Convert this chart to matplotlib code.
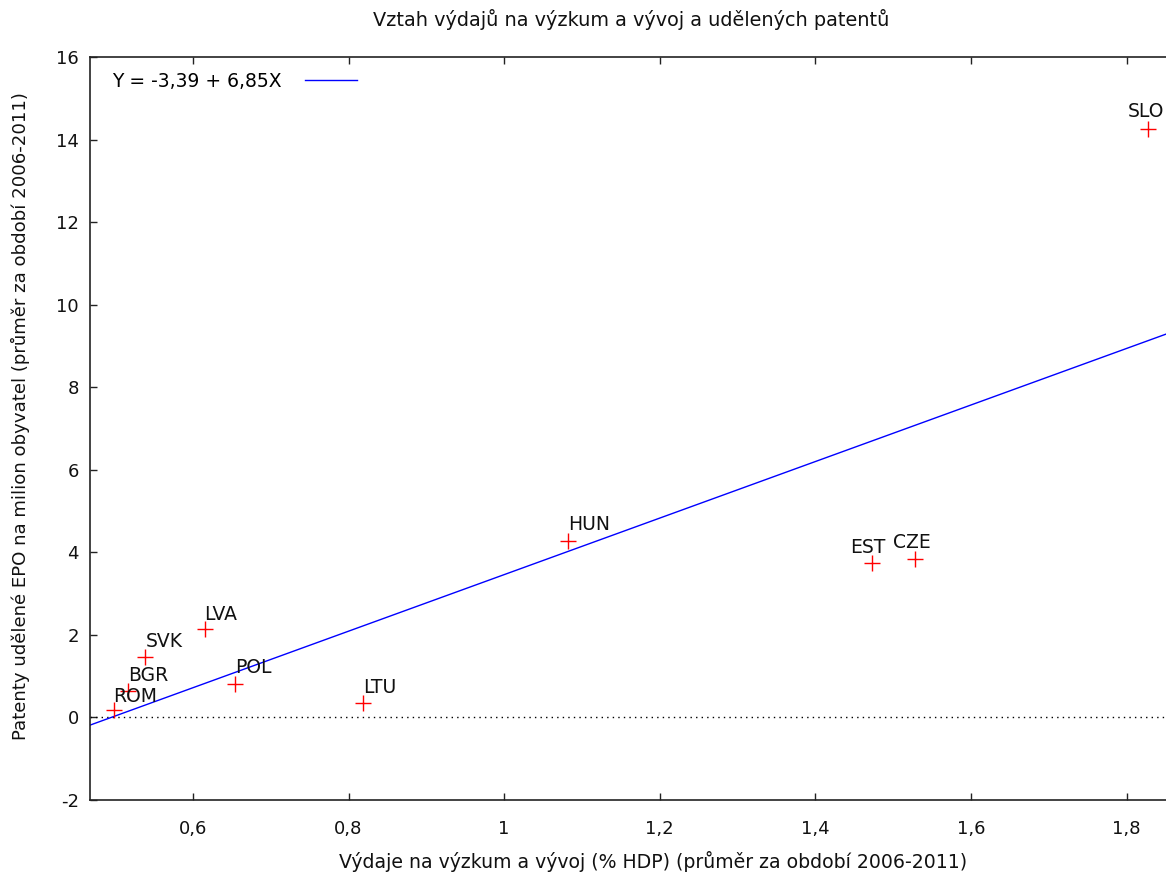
import matplotlib
matplotlib.use('Agg')
import matplotlib.pyplot as plt
import numpy as np
from matplotlib.ticker import FuncFormatter

# data
countries = ['ROM', 'BGR', 'SVK', 'LVA', 'POL', 'LTU', 'HUN', 'EST', 'CZE', 'SLO']
rd_spend = [0.498, 0.517, 0.539, 0.615, 0.654, 0.819, 1.082, 1.473, 1.528, 1.828]
patents = [0.18, 0.63, 1.46, 2.14, 0.82, 0.35, 4.27, 3.73, 3.85, 14.26]
intercept, slope = -3.39, 6.85
x_ticks = [0.6, 0.8, 1.0, 1.2, 1.4, 1.6, 1.8]
y_ticks = [-2, 0, 2, 4, 6, 8, 10, 12, 14, 16]

# label offsets in pixels (dx, dy)
label_offsets = [(0, 14), (0, 16), (0, 16), (0, 15), (0, 16), (0, 15),
                 (0, 17), (-22, 16), (-22, 16), (-21, 17)]

plt.rcParams['font.family'] = 'DejaVu Sans'
FS = 13.5
TXT = '#111111'
fig = plt.figure(figsize=(11.66, 8.72), dpi=100)
ax = fig.add_axes([90 / 1166, 1 - 800 / 872, (1185 - 90) / 1166, (800 - 57) / 872])

xmin, xmax = 0.4677, 1.875
ax.set_xlim(xmin, xmax)
ax.set_ylim(-2, 16)

ax.axhline(0, color='black', lw=1, ls=(0, (1, 3)))

xs = np.array([xmin, xmax])
ax.plot(xs, intercept + slope * xs, color='blue', lw=1,
        label='Y = -3,39 + 6,85X')
ax.plot(rd_spend, patents, ls='none', marker='+', color='red',
        markersize=11, markeredgewidth=1)

px = 0.72  # points per pixel at dpi 100
for name, xv, yv, (dx, dy) in zip(countries, rd_spend, patents, label_offsets):
    ax.annotate(name, (xv, yv), xytext=(dx * px, dy * px),
                textcoords='offset points', ha='left', va='center',
                fontsize=FS, color=TXT)

fmt = FuncFormatter(lambda v, p: ('%g' % v).replace('.', ','))
ax.set_xticks(x_ticks)
ax.set_yticks(y_ticks)
ax.xaxis.set_major_formatter(fmt)
ax.yaxis.set_major_formatter(fmt)
ax.tick_params(direction='in', length=5, width=1, labelsize=13,
               top=True, right=False, colors='#222222', labelcolor=TXT)
ax.tick_params(axis='x', pad=14.5)
ax.tick_params(axis='y', pad=8)
for s in ax.spines.values():
    s.set_linewidth(1.2)
    s.set_color('#222222')

ax.set_xlabel('Výdaje na výzkum a vývoj (% HDP) (průměr za období 2006-2011)',
              fontsize=13.6, color=TXT)
ax.xaxis.set_label_coords(0.514, -0.0686)
ax.set_ylabel('Patenty udělené EPO na milion obyvatel (průměr za období 2006-2011)',
              fontsize=13.1, color=TXT)
ax.yaxis.set_label_coords(-0.0548, 0.517)
fig.text(631 / 1166, 1 - 20 / 872,
         'Vztah výdajů na výzkum a vývoj a udělených patentů',
         fontsize=13.9, ha='center', va='center', color=TXT)

ax.legend(loc='upper left', frameon=False, markerfirst=False, fontsize=FS,
          handlelength=2.77, handletextpad=1.27, borderaxespad=0.38,
          bbox_to_anchor=(7 / 1095, 1))

plt.savefig('out.png', dpi=100)
plt.close()
